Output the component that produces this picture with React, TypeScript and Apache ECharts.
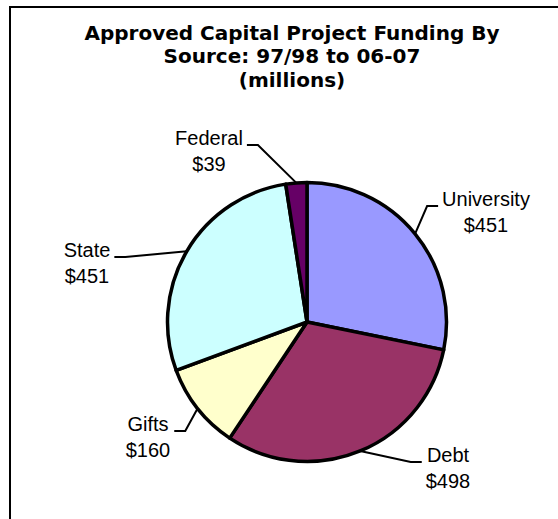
import React, { useEffect, useRef } from "react";
import * as echarts from "echarts";

const TITLE_LINES = ["Approved Capital Project Funding By", "Source: 97/98 to 06-07", "(millions)"];
const CATEGORIES = ["University", "Debt", "Gifts", "State", "Federal"];
const VALUES = [451, 498, 160, 451, 39];
const COLORS = ["#9999FF", "#993366", "#FFFFCC", "#CCFFFF", "#660066"];

// layout only: label block centres
const LABEL_CENTERS: [number, number][] = [
  [486, 212],
  [448, 468],
  [148, 437],
  [87, 263],
  [209, 151],
];

export default function App() {
  const ref = useRef<HTMLDivElement>(null);
  useEffect(() => {
    if (!ref.current) return;
    const chart = echarts.init(ref.current, null, { renderer: "svg" });
    chart.setOption({
      animation: false,
      backgroundColor: "#ffffff",
      title: {
        text: TITLE_LINES.join("\n"),
        left: 292,
        top: 21,
        padding: 0,
        textAlign: "center",
        textStyle: {
          fontFamily: "DejaVu Sans",
          fontWeight: "bold",
          fontSize: 20,
          lineHeight: 23.5,
          color: "#000",
        },
      },
      graphic: [
        {
          type: "rect",
          shape: { x: 10, y: 7, width: 620, height: 600 },
          style: { fill: "none", stroke: "#000", lineWidth: 2 },
          silent: true,
        },
      ],
      series: [
        {
          type: "pie",
          center: [307, 322],
          radius: 139.5,
          startAngle: 90,
          clockwise: true,
          silent: true,
          avoidLabelOverlap: false,
          data: CATEGORIES.map((name, i) => ({
            name,
            value: VALUES[i],
            itemStyle: { color: COLORS[i] },
          })),
          itemStyle: { borderColor: "#000", borderWidth: 3.5 },
          label: {
            show: true,
            position: "outside",
            formatter: "{n|{b}}\n{n|${c}}",
            rich: {
              n: {
                fontFamily: "Liberation Sans",
                fontSize: 20,
                lineHeight: 26.5,
                color: "#000",
                align: "center",
              },
            },
          },
          labelLine: {
            show: true,
            length: 15,
            length2: 10,
            lineStyle: { color: "#000", width: 2 },
          },
          labelLayout: (p: any) => {
            const [cx, cy] = LABEL_CENTERS[p.dataIndex];
            const w = p.labelRect.width;
            const anchor = p.labelLinePoints ? p.labelLinePoints[0] : [cx, cy];
            const onLeft = cx < anchor[0];
            const ly = cy - 6;
            const endX = onLeft ? cx + w / 2 + 4 : cx - w / 2 - 4;
            const bendX = onLeft ? endX + 11 : endX - 11;
            return {
              x: cx,
              y: cy,
              align: "center",
              verticalAlign: "middle",
              labelLinePoints: [anchor, [bendX, ly], [endX, ly]],
            };
          },
        },
      ],
    });
    return () => chart.dispose();
  }, []);
  return (
    <div
      ref={ref}
      style={{ position: "absolute", left: 0, top: 0, width: 558, height: 519 }}
    />
  );
}
